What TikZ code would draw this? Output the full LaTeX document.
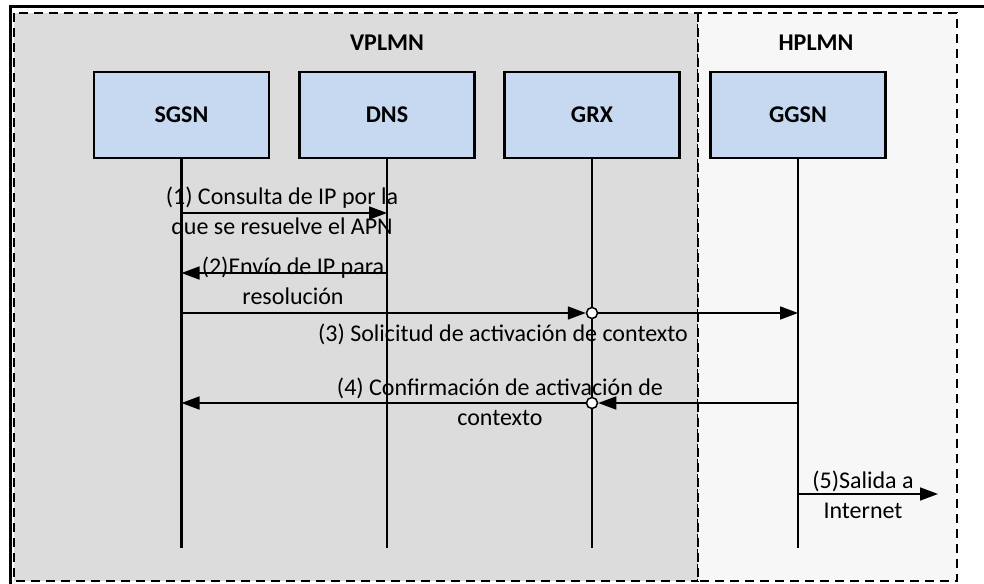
\documentclass[tikz,border=0pt]{standalone}
\usepackage{fontspec}
\setmainfont{Carlito}
\usepackage{tikz}
\usetikzlibrary{arrows.meta}

\definecolor{vgray}{HTML}{DCDCDC}
\definecolor{hgray}{HTML}{F7F7F7}
\definecolor{boxblue}{HTML}{C6D9F1}

\begin{document}
\begin{tikzpicture}
  [x=1pt,y=-1pt,
   every node/.style={font=\fontsize{24}{30}\selectfont},
   entity/.style={draw,line width=2.5pt,fill=boxblue,minimum width=175pt,minimum height=86pt,font=\fontsize{24}{30}\selectfont\bfseries},
   net/.style={draw,line width=1.5pt,dash pattern=on 9pt off 6pt},
   life/.style={line width=2.5pt},
   msg/.style={line width=1.6pt,-{Triangle[length=18pt,width=13pt]}},
   hop/.style={circle,draw,line width=1.5pt,fill=white,inner sep=0pt,minimum size=11pt},
   lbl/.style={align=center,inner sep=0pt}]

  \useasboundingbox (0,0) rectangle (984,583);
  \draw [net,fill=vgray] (14,13) rectangle (698,581);
  \draw [net,fill=hgray] (698,13) rectangle (957,581);
  \draw [line width=3pt] (10,585) -- (10,7) -- (986,7);

  \node [font=\fontsize{24}{30}\selectfont\bfseries] (vplmn) at (387,43) {VPLMN};
  \node [font=\fontsize{24}{30}\selectfont\bfseries] (hplmn) at (816,43) {HPLMN};

  \node [entity] (sgsn) at (181.5,115) {SGSN};
  \node [entity] (dns) at (387,115) {DNS};
  \node [entity] (grx) at (592,115) {GRX};
  \node [entity] (ggsn) at (798,115) {GGSN};

  \foreach \n in {sgsn,dns,grx,ggsn}{
    \coordinate (\n-end) at (\n |- 0,548);
    \draw [life] (\n.south) -- (\n-end);
  }

  \coordinate (s1) at (sgsn |- 0,213);
  \coordinate (d1) at (dns |- 0,213);
  \coordinate (d2) at (dns |- 0,273);
  \coordinate (s2) at (sgsn |- 0,273);
  \coordinate (s3) at (sgsn |- 0,313);
  \node [hop] (grx3) at (grx |- 0,313) {};
  \coordinate (g3) at (ggsn |- 0,313);
  \coordinate (g4) at (ggsn |- 0,403);
  \node [hop] (grx4) at (grx |- 0,403) {};
  \coordinate (s4) at (sgsn |- 0,403);
  \coordinate (g5) at (ggsn |- 0,494);
  \coordinate (out5) at (938,494);

  \foreach \from/\to in {s1/d1,d2/s2,s3/grx3,grx3/g3,g4/grx4,grx4/s4,g5/out5}
    \draw [msg] (\from) -- (\to);

  \node [lbl] (l1) at (282,213) {(1) Consulta de IP por la\\que se resuelve el APN};
  \node [lbl] (l2) at (293,281) {(2)Envío de IP para\\resolución};
  \node [lbl] (l3) at (503,334) {(3) Solicitud de activación de contexto};
  \node [lbl] (l4) at (500,402) {(4) Confirmación de activación de\\contexto};
  \node [lbl] (l5) at (863,495) {(5)Salida a\\Internet};

\end{tikzpicture}
\end{document}
